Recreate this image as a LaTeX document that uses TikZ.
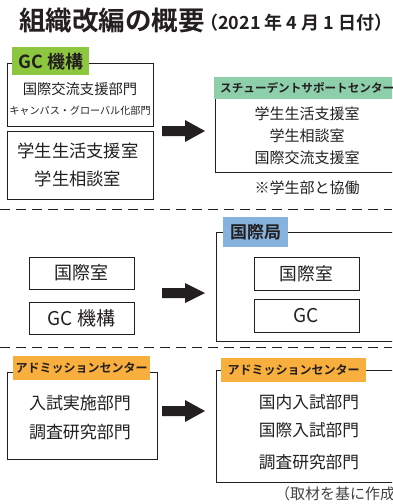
\documentclass[tikz,border=0pt]{standalone}
\usepackage{fontspec}
\setmainfont{Noto Sans CJK JP}[BoldFont={Noto Sans CJK JP Bold}]
\definecolor{ink}{HTML}{231F20}
\definecolor{gcgreen}{HTML}{8DC63F}
\definecolor{mint}{HTML}{8ECFAB}
\definecolor{sky}{HTML}{86B2DE}
\definecolor{amber}{HTML}{F8AF3E}
\newcommand{\fs}[1]{\fontsize{#1}{#1}\selectfont}
\tikzset{
  frame/.style={draw=ink, line width=0.9pt},
  tag/.style={anchor=north west, inner sep=0pt, text=ink, font=\bfseries},
  txt/.style={inner sep=0pt, text=ink},
  blockarrow/.style={fill=ink, draw=none},
  divider/.style={draw=ink, line width=0.9pt, dash pattern=on 10pt off 6pt},
}
\begin{document}
\begin{tikzpicture}[x=1pt,y=-1pt]
\useasboundingbox (0,0) rectangle (392,504);
\clip (0,0) rectangle (392,504);
% title
\node[txt, anchor=west, font=\bfseries\fs{26.5}] (title) at (19,21) {組織改編の概要};
\node[txt, anchor=west, font=\bfseries\fs{18}] (date) at (200,23) {（2021 年 4 月 1 日付）};

% ---- section 1 left
\draw[frame] (7,63) rectangle (153,126);
\node[tag, fill=gcgreen, minimum width=77, minimum height=28] (gclab) at (12,47) {};
\node[txt, font=\bfseries\fs{18}] at (gclab.center) {GC 機構};
\node[txt, font=\fs{14.3}] (a1) at (80,89) {国際交流支援部門};
\node[txt, font=\fs{10.1}] (a2) at (80,111) {キャンパス・グローバル化部門};
\draw[frame] (7,131) rectangle (153,199);
\node[txt, font=\fs{17.3}] (a3) at (78,151) {学生生活支援室};
\node[txt, font=\fs{17.3}] (a4) at (78,179) {学生相談室};

% arrow 1
\fill[blockarrow] (162,126) -- (185,126) -- (185,120) -- (205,131) -- (185,142) -- (185,136) -- (162,136) -- cycle;

% ---- section 1 right
\draw[frame] (400,88) -- (215,88) -- (215,172) -- (400,172);
\node[tag, fill=mint, minimum width=190, minimum height=22] (sslab) at (214,77) {};
\node[txt, anchor=west, font=\bfseries\fs{11.6}] at (220,88) {スチューデントサポートセンター};
\node[txt, font=\fs{15}] (b1) at (307,114) {学生生活支援室};
\node[txt, font=\fs{15}] (b2) at (307,136) {学生相談室};
\node[txt, font=\fs{15}] (b3) at (307,158) {国際交流支援室};
\node[txt, font=\fs{15}] (note) at (307,188) {※学生部と協働};

\draw[divider] (0,209) -- (392,209);

% ---- section 2 left
\draw[frame] (29,257) rectangle (134,289);
\node[txt, font=\fs{18}] (c1) at (81.5,273) {国際室};
\draw[frame] (29,302) rectangle (134,334);
\node[txt, font=\fs{19}] (c2) at (81.5,318) {GC 機構};

% arrow 2
\fill[blockarrow] (162,288) -- (185,288) -- (185,283) -- (205,293) -- (185,303) -- (185,298) -- (162,298) -- cycle;

% ---- section 2 right
\draw[frame] (400,232) -- (216,232) -- (216,341) -- (400,341);
\node[tag, fill=sky, minimum width=65, minimum height=30] (kklab) at (223,217) {};
\node[txt, font=\bfseries\fs{17}] at (kklab.center) {国際局};
\draw[frame] (254,257) rectangle (359,290);
\node[txt, font=\fs{17.7}] (d1) at (306.5,273.5) {国際室};
\draw[frame] (254,299) rectangle (359,332);
\node[txt, font=\fs{19}] (d2) at (306.5,315.5) {GC};

\draw[divider] (0,347) -- (392,347);

% ---- section 3 left
\draw[frame] (7,372) rectangle (157,459);
\node[tag, fill=amber, minimum width=137, minimum height=24] (adl) at (13,356) {};
\node[txt, font=\bfseries\fs{12}] at (adl.center) {アドミッションセンター};
\node[txt, font=\fs{17}] (e1) at (80,403) {入試実施部門};
\node[txt, font=\fs{17}] (e2) at (80,432) {調査研究部門};

% arrow 3
\fill[blockarrow] (162,406) -- (185,406) -- (185,400) -- (205,411) -- (185,422) -- (185,416) -- (162,416) -- cycle;

% ---- section 3 right
\draw[frame] (400,370) -- (216,370) -- (216,482) -- (400,482);
\node[tag, fill=amber, minimum width=145, minimum height=24] (adr) at (221,358) {};
\node[txt, font=\bfseries\fs{12}] at (adr.center) {アドミッションセンター};
\node[txt, font=\fs{16.7}] (f1) at (309,402) {国内入試部門};
\node[txt, font=\fs{16.7}] (f2) at (309,430) {国際入試部門};
\node[txt, font=\fs{16.7}] (f3) at (309,462) {調査研究部門};

\node[txt, anchor=west, font=\fs{15}, text=ink!85] (src) at (275,494) {（取材を基に作成）};
\end{tikzpicture}
\end{document}
